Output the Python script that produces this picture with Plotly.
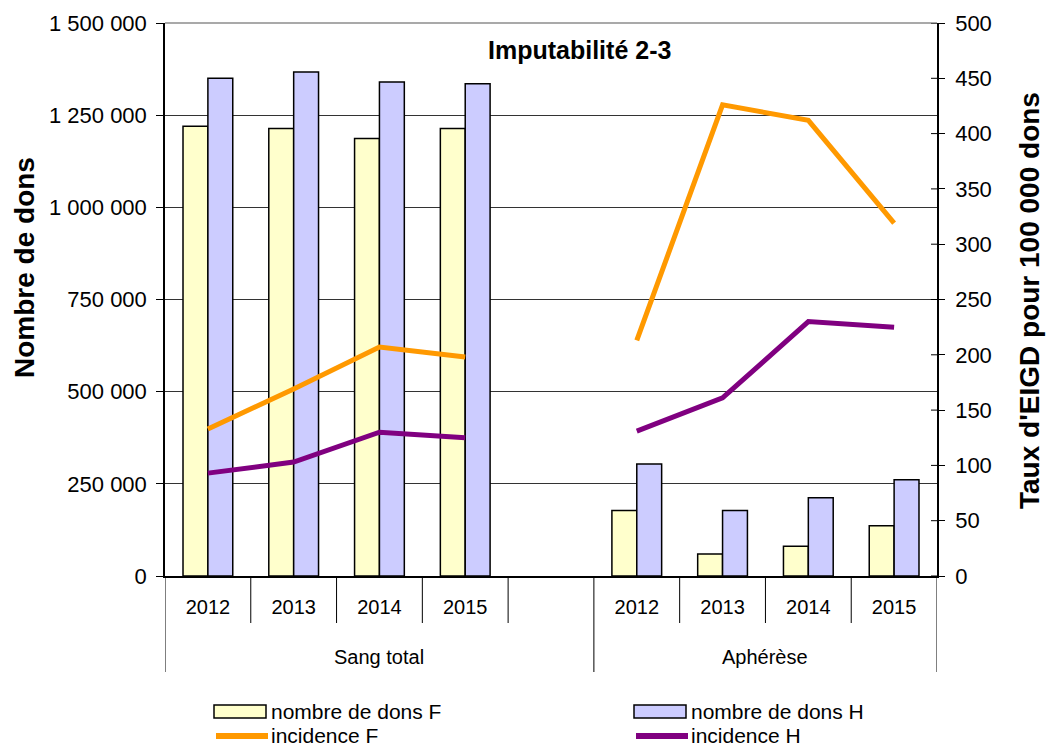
import plotly.graph_objects as go

# --- data -------------------------------------------------------------
years = ["2012", "2013", "2014", "2015"]
groups = ["Sang total", "Aphérèse"]

dons_F_sang = [1220000, 1214000, 1187000, 1214000]
dons_H_sang = [1350000, 1367000, 1340000, 1335000]
dons_F_aph = [178000, 60000, 81000, 136000]
dons_H_aph = [304000, 178000, 212000, 261000]

incid_F_sang = [133, 169, 207, 198]
incid_H_sang = [93, 103, 130, 125]
incid_F_aph = [213, 426, 412, 319]
incid_H_aph = [131, 161, 230, 225]

left_ticks = [0, 250000, 500000, 750000, 1000000, 1250000, 1500000]
right_ticks = [0, 50, 100, 150, 200, 250, 300, 350, 400, 450, 500]

# --- slot layout: 4 years, one empty slot, 4 years ---------------------
n = len(years)
pos_sang = list(range(n))
pos_aph = [n + 1 + i for i in range(n)]
bar_x = pos_sang + pos_aph
line_x = pos_sang + [n] + pos_aph
n_slots = 2 * n + 1

FONT = "Liberation Sans, Arial, sans-serif"
W, H = 1046, 747
L, R, T, B = 165, 109, 23, 171
PW, PH = W - L - R, H - T - B


def px_x(px):
    return (px - L) / PW


def px_y(py):
    return (H - B - py) / PH


def fmt(v):
    return f"{v:,}".replace(",", " ")


fig = go.Figure()

fig.add_trace(go.Bar(
    x=bar_x, y=dons_F_sang + dons_F_aph, name="nombre de dons F",
    marker=dict(color="#FFFFCC", line=dict(color="black", width=1.5)),
    showlegend=False,
))
fig.add_trace(go.Bar(
    x=bar_x, y=dons_H_sang + dons_H_aph, name="nombre de dons H",
    marker=dict(color="#CCCCFF", line=dict(color="black", width=1.5)),
    showlegend=False,
))
fig.add_trace(go.Scatter(
    x=line_x, y=incid_F_sang + [None] + incid_F_aph, name="incidence F",
    mode="lines", line=dict(color="#FF9900", width=5), yaxis="y2",
    connectgaps=False, showlegend=False,
))
fig.add_trace(go.Scatter(
    x=line_x, y=incid_H_sang + [None] + incid_H_aph, name="incidence H",
    mode="lines", line=dict(color="#800080", width=5), yaxis="y2",
    connectgaps=False, showlegend=False,
))

shapes = []
annotations = []

# top border of the plot area
shapes.append(dict(type="line", xref="paper", yref="paper", x0=0, x1=1, y0=1, y1=1,
                   line=dict(color="#8C8C8C", width=1.5), layer="above"))

# category dividers below the axis
row1 = px_y(623)
row2 = px_y(672)
group_edges = [-0.5, n + 0.5, n_slots - 0.5]
for k in range(n_slots + 1):
    xb = k - 0.5
    y1 = row2 if xb in group_edges else row1
    shapes.append(dict(type="line", xref="x", yref="paper", x0=xb, x1=xb, y0=0, y1=y1,
                       line=dict(color="black", width=1)))

# right axis ticks cross the axis line: add the inner half
for v in right_ticks:
    shapes.append(dict(type="line", xref="paper", yref="y2", x0=px_x(L + PW - 6), x1=1,
                       y0=v, y1=v, line=dict(color="black", width=1)))

# group labels
group_centers = [(group_edges[0] + group_edges[1]) / 2, (group_edges[1] + group_edges[2]) / 2]
for g, xc in zip(groups, group_centers):
    annotations.append(dict(text=g, x=xc, xref="x", y=px_y(657), yref="paper",
                            showarrow=False, xanchor="center", yanchor="middle",
                            font=dict(family=FONT, size=20, color="black")))

# chart title
annotations.append(dict(text="<b>Imputabilité 2-3</b>", x=px_x(579), xref="paper",
                        y=px_y(50), yref="paper", showarrow=False,
                        xanchor="center", yanchor="middle",
                        font=dict(family=FONT, size=25, color="black")))

# axis titles
annotations.append(dict(text="<b>Nombre de dons</b>", x=px_x(24), xref="paper",
                        y=px_y(268), yref="paper", showarrow=False, textangle=-90,
                        xanchor="center", yanchor="middle",
                        font=dict(family=FONT, size=28, color="black")))
annotations.append(dict(text="<b>Taux d'EIGD pour 100 000 dons</b>", x=px_x(1029), xref="paper",
                        y=px_y(301), yref="paper", showarrow=False, textangle=-90,
                        xanchor="center", yanchor="middle",
                        font=dict(family=FONT, size=28, color="black")))

# legend
legend_items = [
    ("rect", "#FFFFCC", "nombre de dons F", 214, 711),
    ("rect", "#CCCCFF", "nombre de dons H", 634, 711),
    ("line", "#FF9900", "incidence F", 214, 735),
    ("line", "#800080", "incidence H", 634, 735),
]
for kind, col, label, x0, yc in legend_items:
    if kind == "rect":
        shapes.append(dict(type="rect", xref="paper", yref="paper",
                           x0=px_x(x0), x1=px_x(x0 + 52), y0=px_y(yc - 6), y1=px_y(yc + 7),
                           fillcolor=col, line=dict(color="black", width=1.5)))
    else:
        shapes.append(dict(type="line", xref="paper", yref="paper",
                           x0=px_x(x0 + 2), x1=px_x(x0 + 54), y0=px_y(yc + 1), y1=px_y(yc + 1),
                           line=dict(color=col, width=6)))
    annotations.append(dict(text=label, x=px_x(x0 + 56), xref="paper", y=px_y(yc), yref="paper",
                            showarrow=False, xanchor="left", yanchor="middle",
                            height=20, borderpad=0,
                            font=dict(family=FONT, size=21, color="black")))

fig.update_layout(
    width=W, height=H,
    margin=dict(l=L, r=R, t=T, b=B, pad=0),
    paper_bgcolor="white", plot_bgcolor="white",
    barmode="group", bargap=0.42, bargroupgap=0,
    showlegend=False,
    font=dict(family=FONT, color="black"),
    xaxis=dict(
        range=[-0.5, n_slots - 0.5],
        tickmode="array", tickvals=bar_x, ticktext=years + years,
        ticks="", showgrid=False, zeroline=False,
        showline=True, linecolor="black", linewidth=1.5,
        tickfont=dict(family=FONT, size=20, color="black"),
        ticklabelstandoff=12,
    ),
    yaxis=dict(
        range=[0, left_ticks[-1]],
        tickmode="array", tickvals=left_ticks, ticktext=[fmt(v) for v in left_ticks],
        ticks="outside", ticklen=7, tickcolor="black", tickwidth=1,
        showgrid=True, gridcolor="#333333", gridwidth=1, zeroline=False,
        showline=True, linecolor="black", linewidth=1.5,
        tickfont=dict(family=FONT, size=22, color="black"),
        ticklabelstandoff=5,
    ),
    yaxis2=dict(
        range=[0, right_ticks[-1]], overlaying="y", side="right", anchor="x",
        tickmode="array", tickvals=right_ticks,
        ticks="outside", ticklen=6, tickcolor="black", tickwidth=1,
        showgrid=False, zeroline=False,
        showline=True, linecolor="black", linewidth=1.5,
        tickfont=dict(family=FONT, size=22, color="black"),
        ticklabelstandoff=6,
    ),
    shapes=shapes,
    annotations=annotations,
)

fig.write_html("out.html")
